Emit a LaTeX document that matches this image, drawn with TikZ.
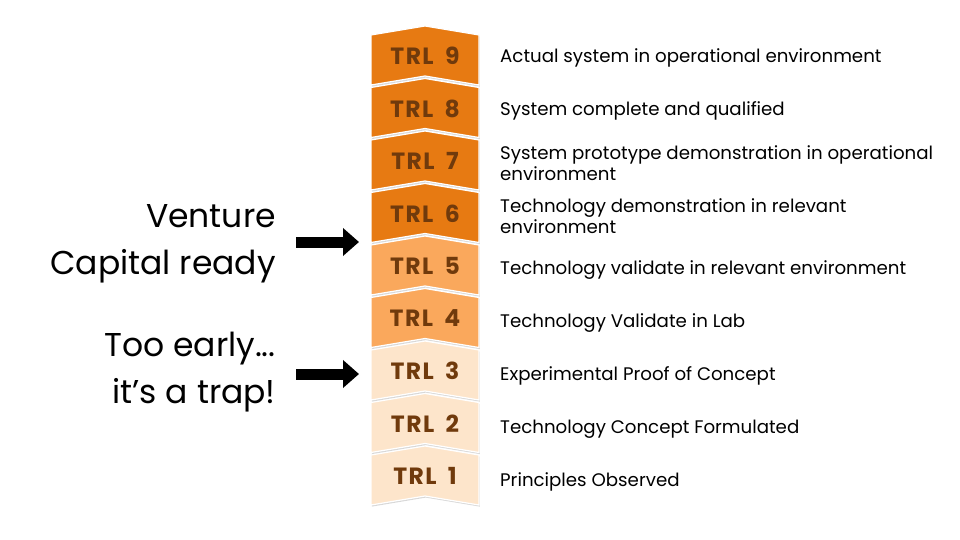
\documentclass[tikz,border=0pt]{standalone}
\usepackage{fontspec}
\setmainfont{Poppins}
\newfontfamily\handfont{Poppins}
\newfontfamily\trlfont[LetterSpace=6]{Poppins}
\usepackage{tikz}
\usetikzlibrary{arrows.meta,shadows}
\definecolor{trldark}{RGB}{231,122,18}
\definecolor{trlmid}{RGB}{250,168,92}
\definecolor{trllight}{RGB}{253,229,203}
\definecolor{trlbrown}{RGB}{112,58,12}
\def\chevron[#1](#2:#3){\draw[#1] (371,#2) -- (425,#2-9) -- (479,#2) -- (479,#3) -- (425,#3-9) -- (371,#3) -- cycle;}
\def\trl#1{TRL\hspace{5pt} #1}
\tikzset{
  trlblock/.style={draw=white, line width=1.2pt, drop shadow={shadow xshift=0.8pt, shadow yshift=-1.6pt, opacity=0.3}},
  trllabel/.style={text=trlbrown, font=\trlfont\fontsize{23.5}{24}\selectfont\bfseries, inner sep=0pt},
  trldesc/.style={anchor=west, align=left, font=\fontsize{18.2}{21}\selectfont, inner sep=0pt},
  handnote/.style={anchor=east, align=right, font=\handfont\fontsize{33}{47}\selectfont, inner sep=0pt},
  fatarrow/.style={line width=11pt, -{Triangle[length=16pt, width=27pt]},
    drop shadow={shadow xshift=1pt, shadow yshift=-1.5pt, opacity=0.3}}
}
\begin{document}
\begin{tikzpicture}[x=1pt, y=-1pt]
			%%%%% START %%%%%
			\useasboundingbox[fill=white] (0,0) rectangle (960,540);
			
			\chevron[trlblock, fill=trllight](455:505);
			\chevron[trlblock, fill=trllight](402.5:452.5);
			\chevron[trlblock, fill=trllight](350:400);
			\chevron[trlblock, fill=trlmid](297.5:347.5);
			\chevron[trlblock, fill=trlmid](245:295);
			\chevron[trlblock, fill=trldark](192.5:242.5);
			\chevron[trlblock, fill=trldark](140:190);
			\chevron[trlblock, fill=trldark](87.5:137.5);
			\chevron[trlblock, fill=trldark](35:85);
			
			\node[trllabel] (t1) at (425,476) {\trl{1}};
			\node[trllabel] (t2) at (425,423.5) {\trl{2}};
			\node[trllabel] (t3) at (425,371) {\trl{3}};
			\node[trllabel] (t4) at (425,318.5) {\trl{4}};
			\node[trllabel] (t5) at (425,266) {\trl{5}};
			\node[trllabel] (t6) at (425,213.5) {\trl{6}};
			\node[trllabel] (t7) at (425,161) {\trl{7}};
			\node[trllabel] (t8) at (425,108.5) {\trl{8}};
			\node[trllabel] (t9) at (425,56) {\trl{9}};
			
			\node[trldesc] (d1) at (500,482) {Principles Observed};
			\node[trldesc] (d2) at (500,429) {Technology Concept Formulated};
			\node[trldesc] (d3) at (500,376) {Experimental Proof of Concept};
			\node[trldesc] (d4) at (500,323) {Technology Validate in Lab};
			\node[trldesc] (d5) at (500,270) {Technology validate in relevant environment};
			\node[trldesc] (d6) at (500,216) {Technology demonstration in relevant\\environment};
			\node[trldesc] (d7) at (500,163) {System prototype demonstration in operational\\environment};
			\node[trldesc] (d8) at (500,111) {System complete and qualified};
			\node[trldesc] (d9) at (500,58) {Actual system in operational environment};
			
			\node[handnote] (vc) at (276,244) {Venture\\Capital ready};
			\node[handnote] (trap) at (276,372) {Too early...\\it’s a trap!};
			
			\coordinate (vcfrom) at (296,242);
			\coordinate (vcto) at (359,242);
			\coordinate (trapfrom) at (296,374);
			\coordinate (trapto) at (359,374);
			\draw[fatarrow] (vcfrom) -- (vcto);
			\draw[fatarrow] (trapfrom) -- (trapto);
			
			%%%%% END %%%%%
\end{tikzpicture}
\end{document}
